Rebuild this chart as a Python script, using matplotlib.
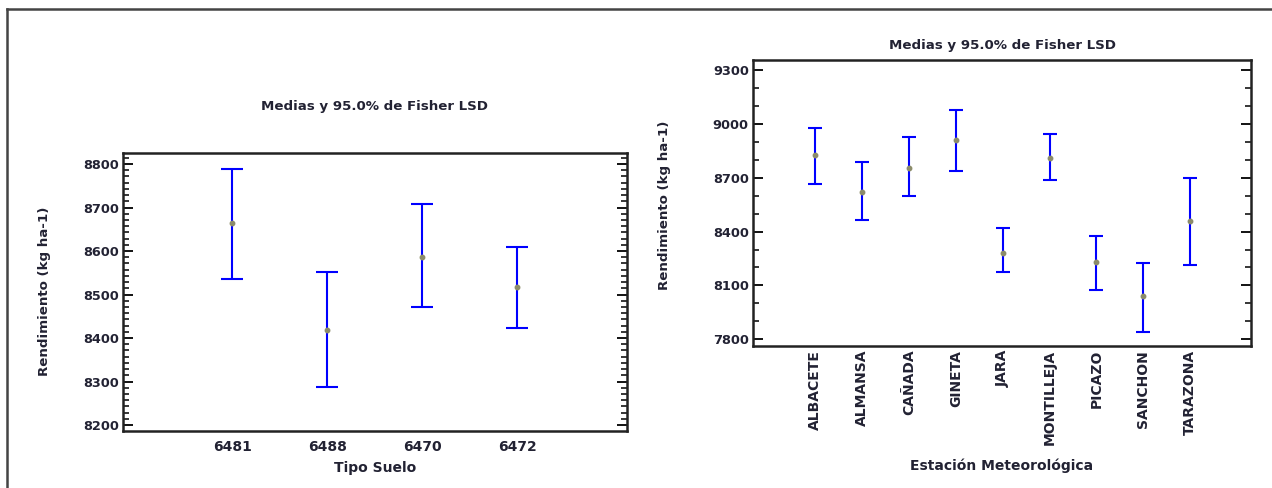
import matplotlib.pyplot as plt
from matplotlib.lines import Line2D
from matplotlib.ticker import MultipleLocator, AutoMinorLocator

plt.rcParams['font.family'] = ['DejaVu Sans']

# --- datos: tipo de suelo ---
suelos = ['6481', '6488', '6470', '6472']
suelo_media = [8665, 8418, 8586, 8517]
suelo_inf = [8536, 8287, 8471, 8423]
suelo_sup = [8789, 8552, 8708, 8609]

# --- datos: estacion meteorologica ---
estaciones = ['ALBACETE', 'ALMANSA', 'CAÑADA', 'GINETA', 'JARA',
              'MONTILLEJA', 'PICAZO', 'SANCHON', 'TARAZONA']
est_media = [8826, 8619, 8756, 8912, 8281, 8811, 8229, 8041, 8460]
est_inf = [8663, 8466, 8598, 8739, 8175, 8689, 8073, 7839, 8212]
est_sup = [8979, 8789, 8928, 9077, 8418, 8942, 8375, 8223, 8700]

titulo = 'Medias y 95.0% de Fisher LSD'
ylab = 'Rendimiento (kg ha-1)'
txt_col = '#222233'
blue = '#0000ff'

fig = plt.figure(figsize=(12.72, 4.88), dpi=100)

# marco exterior (recortado)
fig.add_artist(Line2D([0.0055, 0.0055], [0, 0.982], color='#444444', lw=1.8))
fig.add_artist(Line2D([0.0055, 1.0], [0.982, 0.982], color='#444444', lw=1.8))


def panel(ax, cats, media, inf, sup, capsize, xl, ylim, major, nminor, xpad):
    x = list(range(1, len(cats) + 1))
    lo = [m - i for m, i in zip(media, inf)]
    hi = [s - m for m, s in zip(media, sup)]
    ax.errorbar(x, media, yerr=[lo, hi], fmt='none', ecolor=blue,
                elinewidth=1.5, capsize=capsize, capthick=1.5)
    ax.plot(x, media, 'o', color='#8c8c6a', markersize=3.2, zorder=3)
    ax.set_xlim(*xl)
    ax.set_ylim(*ylim)
    ax.set_xticks(x)
    ax.yaxis.set_major_locator(MultipleLocator(major))
    ax.yaxis.set_minor_locator(AutoMinorLocator(nminor))
    ax.tick_params(axis='y', which='both', direction='in', left=True, right=True,
                   labelsize=9.3, labelcolor=txt_col)
    ax.tick_params(axis='y', which='major', length=7, width=1.3, pad=3)
    ax.tick_params(axis='y', which='minor', length=4, width=1.1)
    ax.tick_params(axis='x', length=0, labelsize=10, labelcolor=txt_col, pad=xpad)
    for lab in ax.get_yticklabels() + ax.get_xticklabels():
        lab.set_fontweight('bold')
    for sp in ax.spines.values():
        sp.set_linewidth(1.8)
        sp.set_color('#222222')


ax1 = fig.add_axes([0.0967, 0.1174, 0.396, 0.5697])
panel(ax1, suelos, suelo_media, suelo_inf, suelo_sup, 8,
      (-0.15, 5.15), (8187, 8826), 100, 7, 7)
ax1.set_xticklabels(suelos)
ax1.set_title(titulo, fontsize=9.6, fontweight='bold', color=txt_col, pad=31)
ax1.set_xlabel('Tipo Suelo', fontsize=10, fontweight='bold', color=txt_col)
ax1.xaxis.set_label_coords(0.5, -0.108)
ax1.set_ylabel(ylab, fontsize=9.6, fontweight='bold', color=txt_col)
ax1.yaxis.set_label_coords(-0.143, 0.5)

ax2 = fig.add_axes([0.592, 0.2916, 0.3915, 0.5855])
panel(ax2, estaciones, est_media, est_inf, est_sup, 4.7,
      (-0.33, 10.3), (7764, 9356), 300, 3, 3)
ax2.set_xticklabels(estaciones, rotation=90)
ax2.set_title(titulo, fontsize=9.6, fontweight='bold', color=txt_col, pad=8)
ax2.set_xlabel('Estación Meteorológica', fontsize=10, fontweight='bold',
               color=txt_col)
ax2.xaxis.set_label_coords(0.5, -0.395)
ax2.set_ylabel(ylab, fontsize=9.6, fontweight='bold', color=txt_col)
ax2.yaxis.set_label_coords(-0.165, 0.492)

fig.savefig('out.png', dpi=100)
